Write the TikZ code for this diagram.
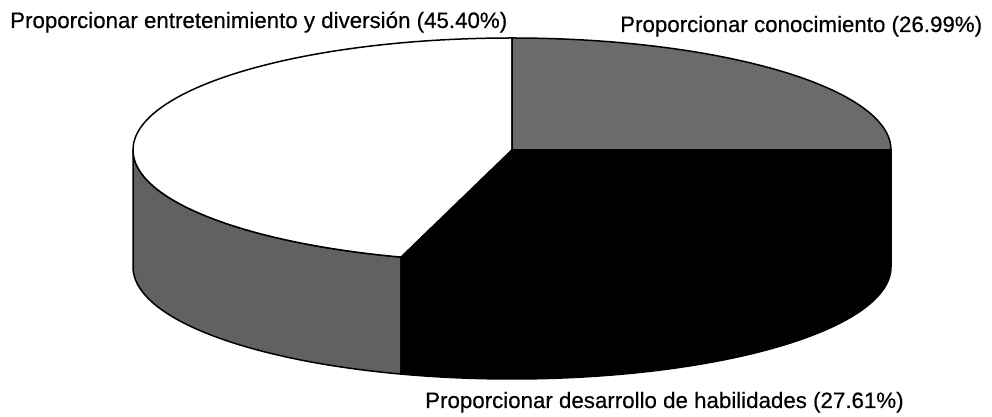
\documentclass[tikz,border=0pt]{standalone}
\usepackage{fontspec}
\setmainfont[FakeBold=0.4]{Liberation Sans}
\begin{document}
\begin{tikzpicture}[x=1pt,y=1pt,
  slice/.style={draw=black,line width=1.5pt,line join=round},
  sideface/.style={draw=black,line width=1.5pt,line join=round},
  lbl/.style={inner sep=0pt,anchor=base west,font=\fontsize{22.3}{26}\selectfont}]
\useasboundingbox[fill=white] (0,0) rectangle (992,417);
\def\rx{379}\def\ry{112}\def\dep{117}
\coordinate (c) at (512,267);
% left side (white slice side)
\filldraw[sideface,fill=black!62]
  ([shift={(180:\rx pt and \ry pt)}]c) arc[start angle=180,end angle=253,x radius=\rx,y radius=\ry]
  -- ++(0,-\dep) arc[start angle=253,end angle=180,x radius=\rx,y radius=\ry] -- cycle;
% front/right side (black slice side)
\filldraw[sideface,fill=black]
  ([shift={(253:\rx pt and \ry pt)}]c) arc[start angle=253,end angle=360,x radius=\rx,y radius=\ry]
  -- ++(0,-\dep) arc[start angle=360,end angle=253,x radius=\rx,y radius=\ry] -- cycle;
% top slices
\filldraw[slice,fill=white] (c) -- ([shift={(90:\rx pt and \ry pt)}]c)
  arc[start angle=90,end angle=253,x radius=\rx,y radius=\ry] -- cycle;
\filldraw[slice,fill=black!58] (c) -- ([shift={(0:\rx pt and \ry pt)}]c)
  arc[start angle=0,end angle=90,x radius=\rx,y radius=\ry] -- cycle;
\filldraw[slice,fill=black] (c) -- ([shift={(253:\rx pt and \ry pt)}]c)
  arc[start angle=253,end angle=360,x radius=\rx,y radius=\ry] -- cycle;
% labels
\node[lbl] (lblA) at (10,389) {Proporcionar entretenimiento y diversión (45.40\%)};
\node[lbl] (lblB) at (620,385) {Proporcionar conocimiento (26.99\%)};
\node[lbl] (lblC) at (425,9) {Proporcionar desarrollo de habilidades (27.61\%)};
\end{tikzpicture}
\end{document}
